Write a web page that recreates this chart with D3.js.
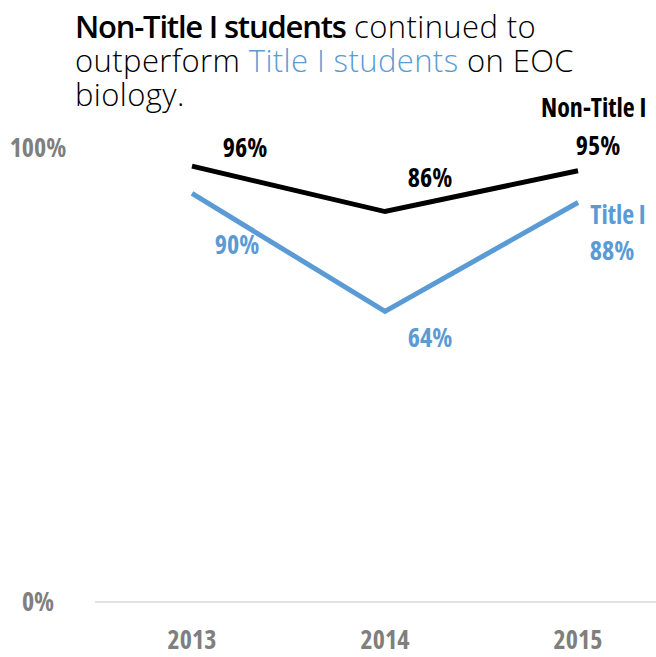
<!DOCTYPE html>
<html>
<head>
<meta charset="utf-8">
<script src="https://cdn.jsdelivr.net/npm/d3@7"></script>
<style>
  html, body { margin: 0; padding: 0; background: #fff; }
  svg { display: block; }
  .cond { font-family: "Open Sans", "Noto Sans", sans-serif; font-stretch: 75%; font-weight: 700; }
  .title { font-family: "Open Sans", "Noto Sans", sans-serif; font-weight: 300; font-size: 31px; }
</style>
</head>
<body>
<script>
// EOC biology pass rates by year
const years = ["2013", "2014", "2015"];
const nonTitle = [96, 86, 95];
const titleOne = [90, 64, 88];
const yTicks = [0, 100];

const W = 656, H = 657;
const svg = d3.select("body").append("svg").attr("width", W).attr("height", H);

const x = d3.scalePoint().domain(years).range([192, 578]);
const y = d3.scaleLinear().domain([0, 100]).range([602, 148]);
const fs = 26;

// baseline
svg.append("line")
  .attr("x1", 95).attr("x2", W)
  .attr("y1", y(0)).attr("y2", y(0))
  .attr("stroke", "#d9d9d9").attr("stroke-width", 1.5);

// y-axis labels
svg.selectAll(".ytick").data(yTicks).enter().append("text")
  .attr("class", "cond")
  .attr("x", 38).attr("y", d => y(d))
  .attr("dy", "0.35em")
  .attr("text-anchor", "middle")
  .attr("font-size", fs)
  .attr("fill", "#7f7f7f")
  .text(d => d + "%");

// x-axis labels
svg.selectAll(".xtick").data(years).enter().append("text")
  .attr("class", "cond")
  .attr("x", d => x(d)).attr("y", 640)
  .attr("dy", "0.35em")
  .attr("text-anchor", "middle")
  .attr("font-size", fs)
  .attr("fill", "#7f7f7f")
  .text(d => d);

const line = d3.line().x((d, i) => x(years[i])).y(d => y(d));

const series = [
  { name: "Non-Title I", values: nonTitle, color: "#000000",
    offsets: [[53, -18], [45, -34], [20, -25]] },
  { name: "Title I", values: titleOne, color: "#5b9bd5",
    offsets: [[45, 51], [45, 26], [34, 48]] }
];

series.forEach(s => {
  svg.append("path")
    .attr("d", line(s.values))
    .attr("fill", "none")
    .attr("stroke", s.color)
    .attr("stroke-width", 5)
    .attr("stroke-linejoin", "miter");

  svg.selectAll(null).data(s.values).enter().append("text")
    .attr("class", "cond")
    .attr("x", (d, i) => x(years[i]) + s.offsets[i][0])
    .attr("y", (d, i) => y(d) + s.offsets[i][1])
    .attr("dy", "0.35em")
    .attr("text-anchor", "middle")
    .attr("font-size", fs)
    .attr("fill", s.color)
    .text(d => d + "%");
});

// series names at the right end
svg.append("text").attr("class", "cond")
  .attr("x", 541).attr("y", y(nonTitle[2]) - 63).attr("dy", "0.35em")
  .attr("text-anchor", "start").attr("font-size", fs).attr("fill", "#000")
  .text("Non-Title I");
svg.append("text").attr("class", "cond")
  .attr("x", 618).attr("y", y(titleOne[2]) + 12).attr("dy", "0.35em")
  .attr("text-anchor", "middle").attr("font-size", fs).attr("fill", "#5b9bd5")
  .text("Title I");

// headline, one text element per line: [text, weight, colour, letter-spacing]
const lines = [
  [["Non-Title I students", 600, "#000", -1.2], [" continued to", 300, "#000", 0.4]],
  [["outperform ", 300, "#000", 0.4], ["Title I students", 300, "#5b9bd5", 0.4], [" on EOC", 300, "#000", 0.4]],
  [["biology.", 300, "#000", 0.4]]
];
lines.forEach((ln, li) => {
  const t = svg.append("text").attr("class", "title")
    .attr("x", 75).attr("y", 38 + li * 34);
  ln.forEach(seg => {
    t.append("tspan")
      .attr("font-weight", seg[1])
      .attr("fill", seg[2])
      .attr("letter-spacing", seg[3])
      .text(seg[0]);
  });
});
</script>
</body>
</html>
